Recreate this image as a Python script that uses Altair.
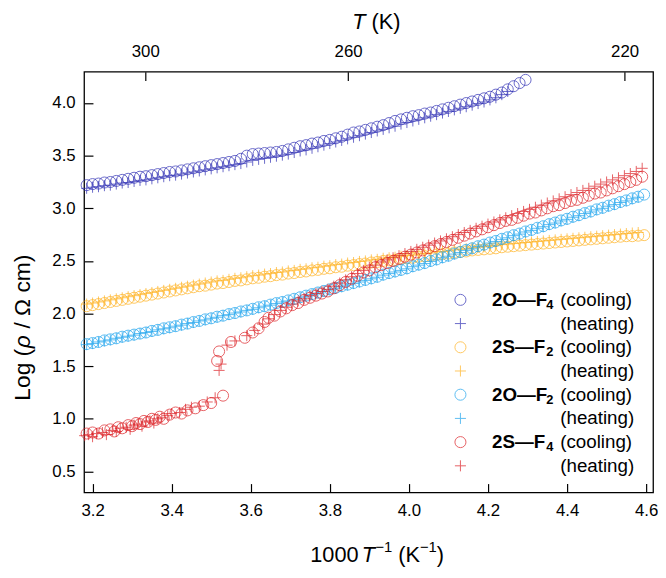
import altair as alt
import pandas as pd

# ---------------- data ----------------
SERIES = ["2O–F4", "2S–F2", "2O–F2", "2S–F4"]
NAME_BASE = ["2O—F", "2S—F", "2O—F", "2S—F"]
NAME_SUB = ["4", "2", "2", "4"]
COLORS = ["#2E2EB4", "#FFB21E", "#1AA3EE", "#DC1E24"]

X_GRID = [3.185, 3.200, 3.215, 3.230, 3.245, 3.260, 3.275, 3.290, 3.305, 3.320,
          3.335, 3.350, 3.365, 3.380, 3.395, 3.410, 3.425, 3.440, 3.455, 3.470,
          3.485, 3.500, 3.515, 3.530, 3.545, 3.560, 3.575, 3.590, 3.605, 3.620,
          3.635, 3.650, 3.665, 3.680, 3.695, 3.710, 3.725, 3.740, 3.755, 3.770,
          3.785, 3.800, 3.815, 3.830, 3.845, 3.860, 3.875, 3.890, 3.905, 3.920,
          3.935, 3.950, 3.965, 3.980, 3.995, 4.010, 4.025, 4.040, 4.055, 4.070,
          4.085, 4.100, 4.115, 4.130, 4.145, 4.160, 4.175, 4.190, 4.205, 4.220,
          4.235, 4.250, 4.265, 4.280, 4.295, 4.310, 4.325, 4.340, 4.355, 4.370,
          4.385, 4.400, 4.415, 4.430, 4.445, 4.460, 4.475, 4.490, 4.505, 4.520,
          4.535, 4.550, 4.565, 4.580, 4.595]

# 2O-F4
Y_2OF4_COOL = [3.22, 3.23, 3.235, 3.245, 3.25, 3.26, 3.27, 3.28, 3.29, 3.30,
               3.305, 3.315, 3.325, 3.335, 3.345, 3.35, 3.36, 3.37, 3.38, 3.39,
               3.40, 3.41, 3.42, 3.43, 3.44, 3.45, 3.47, 3.50, 3.515, 3.52,
               3.525, 3.53, 3.535, 3.545, 3.56, 3.575, 3.59, 3.60, 3.615, 3.625,
               3.64, 3.65, 3.665, 3.68, 3.70, 3.72, 3.73, 3.745, 3.76, 3.775,
               3.79, 3.81, 3.83, 3.845, 3.86, 3.875, 3.885, 3.90, 3.91, 3.925,
               3.94, 3.955, 3.97, 3.985, 4.00, 4.015, 4.03, 4.045, 4.06, 4.08,
               4.10, 4.13, 4.16, 4.19, 4.22]
Y_2OF4_HEAT = [3.19, 3.20, 3.205, 3.215, 3.22, 3.23, 3.24, 3.245, 3.255, 3.265,
               3.27, 3.28, 3.29, 3.30, 3.31, 3.315, 3.325, 3.335, 3.345, 3.355,
               3.365, 3.375, 3.385, 3.395, 3.405, 3.415, 3.425, 3.44, 3.455, 3.465,
               3.475, 3.485, 3.495, 3.505, 3.515, 3.53, 3.545, 3.555, 3.57, 3.585,
               3.60, 3.615, 3.63, 3.645, 3.66, 3.675, 3.69, 3.705, 3.72, 3.735,
               3.75, 3.765, 3.78, 3.80, 3.815, 3.83, 3.845, 3.86, 3.875, 3.89,
               3.905, 3.92, 3.935, 3.95, 3.965, 3.98, 3.995, 4.01, 4.03, 4.05,
               4.08, 4.11]
# 2S-F2
Y_2SF2_COOL = [2.07, 2.08, 2.09, 2.10, 2.11, 2.12, 2.13, 2.14, 2.15, 2.16,
               2.17, 2.18, 2.19, 2.20, 2.21, 2.22, 2.23, 2.24, 2.25, 2.26,
               2.265, 2.275, 2.285, 2.29, 2.30, 2.31, 2.315, 2.325, 2.335, 2.34,
               2.35, 2.355, 2.365, 2.37, 2.38, 2.385, 2.395, 2.40, 2.41, 2.415,
               2.425, 2.43, 2.44, 2.445, 2.455, 2.46, 2.47, 2.475, 2.485, 2.49,
               2.50, 2.505, 2.51, 2.52, 2.525, 2.53, 2.54, 2.545, 2.55, 2.56,
               2.565, 2.57, 2.58, 2.585, 2.59, 2.60, 2.605, 2.61, 2.615, 2.62,
               2.63, 2.635, 2.64, 2.645, 2.65, 2.655, 2.66, 2.665, 2.67, 2.675,
               2.68, 2.685, 2.69, 2.695, 2.70, 2.705, 2.71, 2.715, 2.72, 2.725,
               2.73, 2.735, 2.735, 2.74, 2.745]
Y_2SF2_HEAT = [2.09, 2.10, 2.11, 2.12, 2.13, 2.14, 2.15, 2.16, 2.17, 2.18,
               2.19, 2.20, 2.21, 2.22, 2.23, 2.24, 2.25, 2.26, 2.27, 2.28,
               2.29, 2.30, 2.31, 2.315, 2.325, 2.335, 2.34, 2.35, 2.36, 2.365,
               2.375, 2.38, 2.39, 2.395, 2.405, 2.41, 2.42, 2.425, 2.435, 2.44,
               2.45, 2.455, 2.465, 2.47, 2.48, 2.485, 2.495, 2.50, 2.51, 2.515,
               2.525, 2.53, 2.535, 2.545, 2.55, 2.555, 2.565, 2.57, 2.575, 2.585,
               2.59, 2.595, 2.605, 2.61, 2.615, 2.625, 2.63, 2.635, 2.64, 2.645,
               2.655, 2.66, 2.665, 2.67, 2.675, 2.68, 2.685, 2.69, 2.695, 2.70,
               2.705, 2.71, 2.715, 2.72, 2.725, 2.73, 2.735, 2.74, 2.745, 2.75,
               2.755, 2.76, 2.765, 2.77]
# 2O-F2
Y_2OF2_COOL = [1.71, 1.72, 1.73, 1.745, 1.755, 1.765, 1.78, 1.79, 1.80, 1.81,
               1.82, 1.835, 1.845, 1.86, 1.87, 1.88, 1.895, 1.905, 1.92, 1.93,
               1.945, 1.955, 1.97, 1.98, 1.995, 2.005, 2.02, 2.03, 2.045, 2.06,
               2.07, 2.085, 2.10, 2.11, 2.125, 2.14, 2.155, 2.17, 2.185, 2.20,
               2.215, 2.23, 2.245, 2.26, 2.275, 2.29, 2.305, 2.32, 2.335, 2.35,
               2.37, 2.385, 2.40, 2.415, 2.43, 2.45, 2.465, 2.48, 2.50, 2.515,
               2.535, 2.55, 2.57, 2.585, 2.605, 2.62, 2.64, 2.655, 2.675, 2.69,
               2.71, 2.725, 2.745, 2.76, 2.78, 2.795, 2.815, 2.83, 2.85, 2.865,
               2.885, 2.90, 2.92, 2.935, 2.955, 2.97, 2.99, 3.005, 3.025, 3.04,
               3.06, 3.075, 3.095, 3.11, 3.13]
Y_2OF2_HEAT = [1.705, 1.715, 1.73, 1.74, 1.75, 1.765, 1.775, 1.785, 1.795, 1.81,
               1.82, 1.83, 1.845, 1.855, 1.865, 1.88, 1.89, 1.905, 1.915, 1.93,
               1.94, 1.955, 1.965, 1.98, 1.99, 2.005, 2.015, 2.03, 2.04, 2.055,
               2.07, 2.08, 2.095, 2.11, 2.12, 2.135, 2.15, 2.165, 2.18, 2.195,
               2.21, 2.225, 2.24, 2.255, 2.27, 2.285, 2.30, 2.315, 2.33, 2.345,
               2.365, 2.38, 2.395, 2.41, 2.425, 2.445, 2.46, 2.475, 2.495, 2.51,
               2.53, 2.545, 2.565, 2.58, 2.60, 2.615, 2.635, 2.65, 2.67, 2.685,
               2.705, 2.72, 2.74, 2.755, 2.775, 2.79, 2.81, 2.825, 2.845, 2.86,
               2.88, 2.895, 2.915, 2.93, 2.95, 2.965, 2.985, 3.00, 3.02, 3.035,
               3.055, 3.07, 3.09, 3.105]
# 2S-F4
X_2SF4_COOL = [3.185, 3.20, 3.215, 3.23, 3.245, 3.255, 3.265, 3.275, 3.29, 3.30,
               3.31, 3.32, 3.33, 3.34, 3.35, 3.36, 3.37, 3.38, 3.395, 3.41,
               3.425, 3.44, 3.46, 3.48, 3.50, 3.53,
               3.515, 3.52, 3.55, 3.585, 3.605, 3.62, 3.635, 3.645, 3.66, 3.675,
               3.69, 3.705, 3.72, 3.735, 3.75, 3.765, 3.78, 3.795, 3.81, 3.825,
               3.84, 3.855, 3.87, 3.885, 3.90, 3.915, 3.93, 3.945, 3.96, 3.975,
               3.99, 4.005, 4.02, 4.035, 4.05, 4.065, 4.08, 4.095, 4.11, 4.125,
               4.14, 4.155, 4.17, 4.185, 4.20, 4.215, 4.23, 4.245, 4.26, 4.275,
               4.29, 4.305, 4.32, 4.335, 4.35, 4.365, 4.38, 4.395, 4.41, 4.425,
               4.44, 4.455, 4.47, 4.485, 4.50, 4.515, 4.53, 4.545, 4.56, 4.575,
               4.59]
Y_2SF4_COOL = [0.86, 0.87, 0.86, 0.89, 0.90, 0.88, 0.92, 0.91, 0.94, 0.93,
               0.96, 0.95, 0.98, 0.97, 1.00, 0.99, 1.02, 1.00, 1.04, 1.06,
               1.05, 1.08, 1.10, 1.13, 1.15, 1.22,
               1.55, 1.64, 1.73, 1.77, 1.82, 1.86, 1.92, 1.96, 1.98, 2.02,
               2.05, 2.08, 2.10, 2.13, 2.15, 2.17, 2.19, 2.21, 2.24, 2.27,
               2.30, 2.33, 2.36, 2.39, 2.41, 2.44, 2.46, 2.48, 2.50, 2.52,
               2.54, 2.56, 2.58, 2.60, 2.62, 2.64, 2.66, 2.68, 2.70, 2.72,
               2.74, 2.76, 2.78, 2.80, 2.82, 2.84, 2.86, 2.88, 2.89, 2.91,
               2.93, 2.95, 2.96, 2.98, 3.00, 3.02, 3.03, 3.05, 3.07, 3.08,
               3.10, 3.12, 3.14, 3.15, 3.17, 3.19, 3.21, 3.23, 3.25, 3.27,
               3.30]
X_2SF4_HEAT = [3.18, 3.19, 3.20, 3.21, 3.225, 3.235, 3.25, 3.26, 3.27, 3.285,
               3.295, 3.305, 3.315, 3.325, 3.335, 3.345, 3.355, 3.365, 3.375, 3.39,
               3.40, 3.42, 3.435, 3.45, 3.47, 3.49, 3.51,
               3.52, 3.525, 3.54, 3.56, 3.59, 3.61, 3.63, 3.645, 3.66, 3.675,
               3.69, 3.705, 3.72, 3.735, 3.75, 3.765, 3.78, 3.795, 3.81, 3.825,
               3.84, 3.855, 3.87, 3.885, 3.90, 3.915, 3.93, 3.945, 3.96, 3.975,
               3.99, 4.005, 4.02, 4.035, 4.05, 4.065, 4.08, 4.095, 4.11, 4.125,
               4.14, 4.155, 4.17, 4.185, 4.20, 4.215, 4.23, 4.245, 4.26, 4.275,
               4.29, 4.305, 4.32, 4.335, 4.35, 4.365, 4.38, 4.395, 4.41, 4.425,
               4.44, 4.455, 4.47, 4.485, 4.50, 4.515, 4.53, 4.545, 4.56, 4.575,
               4.59]
Y_2SF4_HEAT = [0.84, 0.85, 0.83, 0.86, 0.87, 0.85, 0.89, 0.88, 0.91, 0.92,
               0.90, 0.94, 0.95, 0.93, 0.97, 0.98, 0.96, 1.00, 1.01, 1.03,
               1.05, 1.06, 1.09, 1.11, 1.12, 1.16, 1.20,
               1.46, 1.52, 1.70, 1.74, 1.79, 1.84, 1.90, 1.95, 1.99, 2.03,
               2.06, 2.09, 2.12, 2.14, 2.17, 2.19, 2.21, 2.23, 2.26, 2.29,
               2.32, 2.35, 2.38, 2.41, 2.44, 2.46, 2.49, 2.51, 2.53, 2.55,
               2.57, 2.59, 2.61, 2.63, 2.65, 2.67, 2.69, 2.71, 2.73, 2.75,
               2.77, 2.79, 2.81, 2.83, 2.85, 2.87, 2.89, 2.91, 2.93, 2.95,
               2.97, 2.99, 3.01, 3.03, 3.05, 3.07, 3.09, 3.11, 3.13, 3.15,
               3.17, 3.19, 3.21, 3.23, 3.25, 3.27, 3.29, 3.31, 3.33, 3.35,
               3.38]

X_TICKS = [3.2, 3.4, 3.6, 3.8, 4.0, 4.2, 4.4, 4.6]
Y_TICKS = [0.5, 1.0, 1.5, 2.0, 2.5, 3.0, 3.5, 4.0]
T_TICKS = [300, 260, 220]

# ---------------- build table ----------------
rows = []
def add(series, kind, xs, ys):
    for xv, yv in zip(xs, ys):
        rows.append({"series": series, "kind": kind, "x": xv, "y": yv})

add(SERIES[0], "cooling", X_GRID[:len(Y_2OF4_COOL)], Y_2OF4_COOL)
add(SERIES[0], "heating", X_GRID[:len(Y_2OF4_HEAT)], Y_2OF4_HEAT)
add(SERIES[1], "cooling", X_GRID[:len(Y_2SF2_COOL)], Y_2SF2_COOL)
add(SERIES[1], "heating", X_GRID[:len(Y_2SF2_HEAT)], Y_2SF2_HEAT)
add(SERIES[2], "cooling", X_GRID[:len(Y_2OF2_COOL)], Y_2OF2_COOL)
add(SERIES[2], "heating", X_GRID[:len(Y_2OF2_HEAT)], Y_2OF2_HEAT)
add(SERIES[3], "cooling", X_2SF4_COOL, Y_2SF4_COOL)
add(SERIES[3], "heating", X_2SF4_HEAT, Y_2SF4_HEAT)
df = pd.DataFrame(rows)
df["order"] = range(len(df))

# ---------------- layout ----------------
W, H = 576, 426
X_DOM = [3.1785, 4.6175]
Y_DOM = [0.30, 4.298]
FONT = "Liberation Sans"
PLUS = "M-1,0L1,0M0,-1L0,1"

color_scale = alt.Scale(domain=SERIES, range=COLORS)
shape_scale = alt.Scale(domain=["cooling", "heating"], range=["circle", PLUS])
xs = alt.Scale(domain=X_DOM, nice=False, zero=False)
ys = alt.Scale(domain=Y_DOM, nice=False, zero=False)

tick_common = dict(tickSize=9, offset=-9, domain=False, grid=False, tickColor="black",
                   tickWidth=1.2, labelFont=FONT, labelFontSize=17, labelColor="black",
                   title=None, labelFlush=False, labelOverlap=False)

points = alt.Chart(df).mark_point(filled=False, size=125, strokeWidth=1).encode(
    x=alt.X("x:Q", scale=xs, axis=alt.Axis(orient="bottom", values=X_TICKS, format=".1f",
                                           labelPadding=10, **tick_common)),
    y=alt.Y("y:Q", scale=ys, axis=alt.Axis(orient="left", values=Y_TICKS, format=".1f",
                                           labelPadding=9, **tick_common)),
    color=alt.Color("series:N", scale=color_scale, legend=None),
    shape=alt.Shape("kind:N", scale=shape_scale, legend=None),
    order=alt.Order("order:Q"),
)

top_df = pd.DataFrame({"T": T_TICKS})
top_axis = alt.Chart(top_df).transform_calculate(inv="1000 / datum.T").mark_point(opacity=0).encode(
    x=alt.X("inv:Q", scale=xs, axis=alt.Axis(orient="top", values=[1000 / t for t in T_TICKS],
                                             labelExpr="format(1000 / datum.value, '.0f')",
                                             labelPadding=11, **tick_common)),
)

# legend (pixel positions relative to plot area)
LEG_SYM_X, LEG_NAME_X, LEG_SUB_X, LEG_TXT_X = 381, 413, 468, 482
LEG_Y0, LEG_DY = 231, 24
leg_rows = []
for i, s in enumerate(SERIES):
    for j, kind in enumerate(["cooling", "heating"]):
        r = 2 * i + j
        leg_rows.append({"series": s, "kind": kind, "py": LEG_Y0 + r * LEG_DY,
                         "name": NAME_BASE[i] if j == 0 else "",
                         "sub": NAME_SUB[i] if j == 0 else "",
                         "txt": "(" + kind + ")"})
leg_df = pd.DataFrame(leg_rows)
lbase = alt.Chart(leg_df)
leg_sym = lbase.mark_point(filled=False, size=125, strokeWidth=1).encode(
    x=alt.value(LEG_SYM_X), y=alt.Y("py:Q", scale=None, axis=None),
    color=alt.Color("series:N", scale=color_scale, legend=None),
    shape=alt.Shape("kind:N", scale=shape_scale, legend=None))
leg_name = lbase.mark_text(font=FONT, fontSize=19, fontWeight="bold", align="left",
                           baseline="middle", color="black").encode(
    x=alt.value(LEG_NAME_X), y=alt.Y("py:Q", scale=None, axis=None), text="name:N")
leg_sub = lbase.mark_text(font=FONT, fontSize=13, fontWeight="bold", align="left",
                          baseline="middle", color="black", dy=5).encode(
    x=alt.value(LEG_SUB_X), y=alt.Y("py:Q", scale=None, axis=None), text="sub:N")
leg_txt = lbase.mark_text(font=FONT, fontSize=19, align="left", baseline="middle",
                          color="black").encode(
    x=alt.value(LEG_TXT_X), y=alt.Y("py:Q", scale=None, axis=None), text="txt:N")

# axis titles built from text pieces
one = pd.DataFrame({"a": [0]})
def piece(text, px, py, size=22, style="normal", angle=0, align="left", baseline="alphabetic"):
    kw = dict(font=FONT, fontSize=size, fontStyle=style, align=align, baseline=baseline,
              color="black")
    if angle:
        kw["angle"] = angle
    return alt.Chart(one).mark_text(**kw).encode(
        x=alt.value(px), y=alt.value(py), text=alt.value(text))

titles = [
    piece("T", 285, -43, style="italic", align="right"),
    piece("(K)", 291, -43),
    piece("1000", 229, 496),
    piece("T", 281, 496, style="italic"),
    piece("−1", 295, 486, size=15),
    piece("(K", 318, 496),
    piece("−1", 340, 486, size=15),
    piece(")", 357, 496),
    piece("Log (", -55, 333, size=23, angle=270),
    piece("ρ", -55, 280, size=23, style="italic", angle=270),
    piece("/ Ω cm)", -55, 260, size=23, angle=270),
]

chart = alt.layer(points, top_axis, leg_sym, leg_name, leg_sub, leg_txt, *titles).resolve_scale(
    x="independent"
).properties(
    width=W, height=H,
    autosize=alt.AutoSizeParams(type="none"),
    padding={"left": 77, "top": 61, "right": 5, "bottom": 75},
).configure_view(stroke="black", strokeWidth=1.3)

chart.save("out.html", embed_options={"renderer": "svg", "actions": False})
